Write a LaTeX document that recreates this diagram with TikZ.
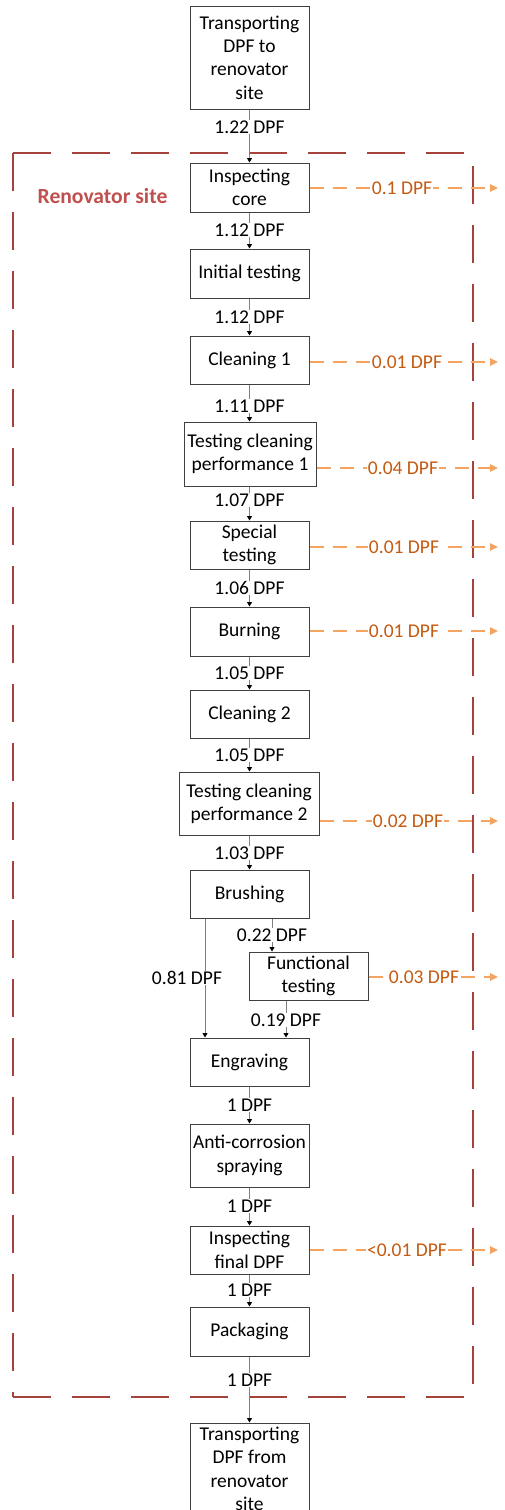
\documentclass[tikz,border=0pt]{standalone}
\usepackage{fontspec}
\setmainfont{Carlito}
\usetikzlibrary{arrows.meta}

\definecolor{framered}{RGB}{165,66,60}
\definecolor{sitered}{RGB}{192,80,77}
\definecolor{lossline}{RGB}{244,164,96}
\definecolor{losstext}{RGB}{197,90,17}
\definecolor{boxline}{RGB}{64,64,64}
\definecolor{flowline}{RGB}{128,128,128}

\begin{document}
\begin{tikzpicture}[x=1pt,y=-1pt,
  txt/.style={font=\fontsize{19.5}{23.4}\selectfont},
  box/.style={txt, draw=boxline, line width=1pt, fill=white, align=center,
    inner sep=0pt, minimum width=119pt, minimum height=48pt},
  lbl/.style={txt, fill=white, inner sep=1pt, text height=12.6pt, text depth=0pt},
  olbl/.style={lbl, text=losstext},
  flow/.style={draw=flowline, line width=0.9pt,
    -{Triangle[length=4.5pt,width=5pt,color=black]}},
  loss/.style={draw=lossline, line width=1.6pt, dash pattern=on 14pt off 9pt,
    -{Triangle[length=8pt,width=7.5pt]}},
  frame/.style={draw=framered, line width=2.6pt, dash pattern=on 38pt off 21pt}
]
\clip (0,0) rectangle (504,1510);
\useasboundingbox (0,0) rectangle (504,1510);

% dashed border of the renovator site
\draw[frame] (13,153) -- (473,153) (13,153) -- (13,1397)
  (13,1397) -- (473,1397) (473,166) -- (473,1397);
\node[font=\fontsize{21.6}{25}\selectfont\bfseries, text=sitered] (site) at (102.5,196) {Renovator site};

% process steps
\node[box, minimum height=103pt] (b1) at (249.5,57.5) {Transporting\\DPF to\\renovator\\site};
\node[box, minimum height=49pt] (insp) at (249.5,187.5) {Inspecting\\core};
\node[box, minimum height=49pt] (init) at (249.5,273.5) {Initial testing};
\node[box] (cl1) at (249.5,360) {Cleaning 1};
\node[box, minimum width=132pt, minimum height=64pt] (tcp1) at (250,454) {Testing cleaning\\performance 1};
\node[box] (spec) at (249.5,545) {Special\\testing};
\node[box, minimum height=49pt] (burn) at (249.5,631.5) {Burning};
\node[box] (cl2) at (249.5,714) {Cleaning 2};
\node[box, minimum width=140pt, minimum height=63pt] (tcp2) at (249,803.5) {Testing cleaning\\performance 2};
\node[box] (brush) at (249.5,894) {Brushing};
\node[box] (func) at (308.5,976) {Functional\\testing};
\node[box] (engr) at (249.5,1062) {Engraving};
\node[box, minimum height=63pt] (anti) at (249.5,1155.5) {Anti-corrosion\\spraying};
\node[box] (fin) at (249.5,1250) {Inspecting\\final DPF};
\node[box, minimum height=49pt] (pack) at (249.5,1331.5) {Packaging};
\node[box, minimum height=92pt] (b2) at (249.5,1469) {Transporting\\DPF from\\renovator\\site};

% branch lanes below brushing
\coordinate (lane1) at (205,0);
\coordinate (lane2) at (272,0);
\coordinate (lane3) at (286,0);

% main flow
\draw[flow] (b1.south) -- (b1.south |- insp.north);
\draw[flow] (insp.south) -- (insp.south |- init.north);
\draw[flow] (init.south) -- (init.south |- cl1.north);
\draw[flow] (cl1.south) -- (cl1.south |- tcp1.north);
\draw[flow] (cl1.south |- tcp1.south) -- (cl1.south |- spec.north);
\draw[flow] (spec.south) -- (spec.south |- burn.north);
\draw[flow] (burn.south) -- (burn.south |- cl2.north);
\draw[flow] (cl2.south) -- (cl2.south |- tcp2.north);
\draw[flow] (cl2.south |- tcp2.south) -- (cl2.south |- brush.north);
\draw[flow] (brush.south -| lane1) -- (engr.north -| lane1);
\draw[flow] (brush.south -| lane2) -- (func.north -| lane2);
\draw[flow] (func.south -| lane3) -- (engr.north -| lane3);
\draw[flow] (engr.south) -- (engr.south |- anti.north);
\draw[flow] (anti.south) -- (anti.south |- fin.north);
\draw[flow] (fin.south) -- (fin.south |- pack.north);
\draw[flow] (pack.south) -- (pack.south |- b2.north);

% flow quantities
\node[lbl] (q1) at (249.5,127) {1.22 DPF};
\node[lbl] (q2) at (249.5,230) {1.12 DPF};
\node[lbl] (q3) at (249.5,317) {1.12 DPF};
\node[lbl] (q4) at (249.5,406) {1.11 DPF};
\node[lbl] (q5) at (249.5,500) {1.07 DPF};
\node[lbl] (q6) at (249.5,588) {1.06 DPF};
\node[lbl] (q7) at (249.5,673) {1.05 DPF};
\node[lbl] (q8) at (249.5,755) {1.05 DPF};
\node[lbl] (q9) at (249.5,853) {1.03 DPF};
\node[lbl] (q10) at (272,935) {0.22 DPF};
\node[lbl] (q11) at (187,978) {0.81 DPF};
\node[lbl] (q12) at (286,1020) {0.19 DPF};
\node[lbl] (q13) at (249.5,1105) {1 DPF};
\node[lbl] (q14) at (249.5,1206) {1 DPF};
\node[lbl] (q15) at (249.5,1290) {1 DPF};
\node[lbl] (q16) at (249.5,1380) {1 DPF};

% losses leaving the site
\coordinate (x1) at (498,188);
\coordinate (x2) at (498,362);
\coordinate (x3) at (498,468);
\coordinate (x4) at (498,547);
\coordinate (x5) at (498,631);
\coordinate (x6) at (498,821);
\coordinate (x7) at (498,977);
\coordinate (x8) at (498,1250);
\draw[loss] (insp.east |- x1) -- (x1);
\draw[loss] (cl1.east |- x2) -- (x2);
\draw[loss] (tcp1.east |- x3) -- (x3);
\draw[loss] (spec.east |- x4) -- (x4);
\draw[loss] (burn.east |- x5) -- (x5);
\draw[loss] (tcp2.east |- x6) -- (x6);
\draw[loss] (func.east |- x7) -- (x7);
\draw[loss] (fin.east |- x8) -- (x8);
\node[olbl] (o1) at (402,188) {0.1 DPF};
\node[olbl] (o2) at (407,362) {0.01 DPF};
\node[olbl] (o3) at (403,468) {0.04 DPF};
\node[olbl] (o4) at (404,547) {0.01 DPF};
\node[olbl] (o5) at (404,631) {0.01 DPF};
\node[olbl] (o6) at (408,821) {0.02 DPF};
\node[olbl] (o7) at (424,977) {0.03 DPF};
\node[olbl] (o8) at (407,1250) {<0.01 DPF};
\end{tikzpicture}
\end{document}
